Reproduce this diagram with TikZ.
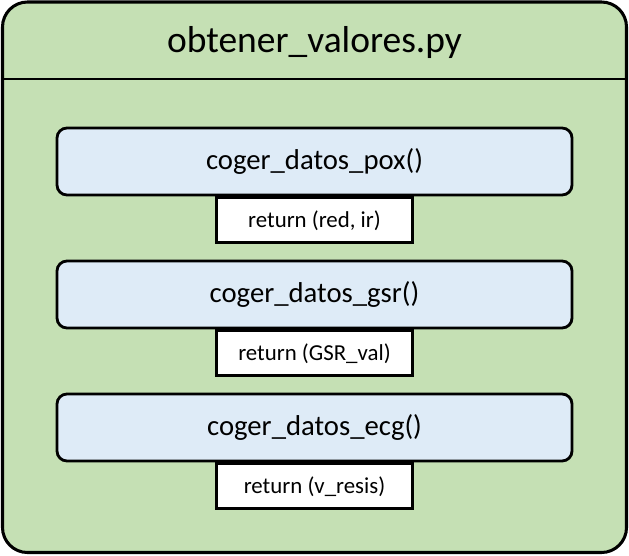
\documentclass[tikz,border=0pt]{standalone}
\usepackage{fontspec}
\setmainfont{Carlito}
\definecolor{filegreen}{HTML}{C5E0B4}
\definecolor{funcblue}{HTML}{DEEBF7}
\tikzset{
  filebox/.style={fill=filegreen, draw=black, line width=2.6pt, rounded corners=0.75cm},
  headline/.style={draw=black, line width=2.4pt},
  filelabel/.style={font=\fontsize{32}{38}\selectfont},
  funcbox/.style={fill=funcblue, draw=black, line width=2.4pt, rounded corners=0.3cm,
    minimum width=15.45cm, minimum height=2.01cm, inner sep=0pt, font=\fontsize{24.5}{29}\selectfont},
  retbox/.style={fill=white, draw=black, line width=2.3pt,
    minimum width=5.88cm, minimum height=1.35cm, inner sep=0pt, font=\fontsize{19.5}{23}\selectfont},
}
\begin{document}
\begin{tikzpicture}[x=0.03cm, y=-0.03cm]
\useasboundingbox (0,0) rectangle (629,555);
\draw[filebox] (2.5,2) rectangle (626.5,552.5);
\draw[headline] (1.5,79) -- (627.5,79);
\node[filelabel] (file) at (314.5,43) {obtener\_valores.py};
\node[funcbox] (pox) at (314.5,161.5) {coger\_datos\_pox()};
\node[retbox, anchor=north] (poxret) at (pox.south) {return (red, ir)};
\node[funcbox] (gsr) at (314.5,294.5) {coger\_datos\_gsr()};
\node[retbox, anchor=north] (gsrret) at (gsr.south) {return (GSR\_val)};
\node[funcbox] (ecg) at (314.5,427.5) {coger\_datos\_ecg()};
\node[retbox, anchor=north] (ecgret) at (ecg.south) {return (v\_resis)};
\end{tikzpicture}
\end{document}
